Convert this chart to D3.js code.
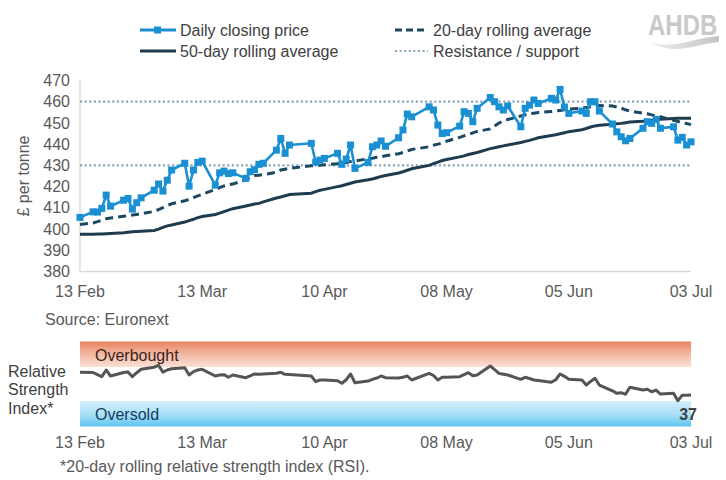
<!DOCTYPE html>
<html><head><meta charset="utf-8">
<script src="https://cdn.jsdelivr.net/npm/d3@7"></script>
<style>body{margin:0;background:#fff}svg{display:block;font-family:"Liberation Sans",Arial,sans-serif}</style>
</head><body><svg id="c" width="726" height="480"></svg>
<script>
const dates = [
"2026-02-13",
"2026-02-16","2026-02-17","2026-02-18","2026-02-19","2026-02-20",
"2026-02-23","2026-02-24","2026-02-25","2026-02-26","2026-02-27",
"2026-03-02","2026-03-03","2026-03-04","2026-03-05","2026-03-06",
"2026-03-09","2026-03-10","2026-03-11","2026-03-12","2026-03-13",
"2026-03-16","2026-03-17","2026-03-18","2026-03-19","2026-03-20",
"2026-03-23","2026-03-24","2026-03-25","2026-03-26","2026-03-27",
"2026-03-30","2026-03-31","2026-04-01","2026-04-02",
"2026-04-07","2026-04-08","2026-04-09","2026-04-10",
"2026-04-13","2026-04-14","2026-04-15","2026-04-16","2026-04-17",
"2026-04-20","2026-04-21","2026-04-22","2026-04-23","2026-04-24",
"2026-04-27","2026-04-28","2026-04-29","2026-04-30",
"2026-05-04","2026-05-05","2026-05-06","2026-05-07","2026-05-08",
"2026-05-11","2026-05-12","2026-05-13","2026-05-14","2026-05-15",
"2026-05-18","2026-05-19","2026-05-20","2026-05-21","2026-05-22",
"2026-05-25","2026-05-26","2026-05-27","2026-05-28","2026-05-29",
"2026-06-01","2026-06-02","2026-06-03","2026-06-04","2026-06-05",
"2026-06-08","2026-06-09","2026-06-10","2026-06-11","2026-06-12",
"2026-06-15","2026-06-16","2026-06-17","2026-06-18","2026-06-19",
"2026-06-22","2026-06-23","2026-06-24","2026-06-25","2026-06-26",
"2026-06-29","2026-06-30","2026-07-01","2026-07-02","2026-07-03"];

const price = [
405.5,
408.1,408.0,409.7,416.0,410.8,
413.6,414.4,409.4,412.4,414.7,
418.3,421.2,417.9,423.0,427.8,
431.0,420.2,427.8,431.4,432.0,
420.7,426.5,427.3,426.2,426.5,
423.9,427.0,428.0,430.5,431.0,
437.2,442.7,435.7,439.6,
440.4,431.5,432.5,433.3,
435.7,430.5,433.0,439.6,428.6,
431.4,438.8,439.6,441.5,439.0,
443.0,446.7,454.2,452.9,
457.6,456.1,449.0,445.0,445.4,
448.5,455.3,454.5,450.6,456.9,
462.0,460.0,457.6,456.1,458.0,
448.2,456.9,458.4,460.8,459.2,
461.6,460.8,465.8,457.5,454.5,
455.6,454.5,460.0,460.0,455.6,
449.5,445.8,443.5,441.6,442.7,
447.5,450.6,449.8,451.7,447.5,
448.2,441.9,443.2,439.6,441.1];

const ma20 = [
402.2,
402.9,403.5,404.2,404.9,405.2,
406.0,406.3,406.6,406.9,407.2,
408.3,409.2,410.1,411.0,411.9,
413.3,414.0,414.8,415.6,416.4,
418.7,419.5,420.3,420.9,421.2,
423.2,424.5,425.2,425.4,425.6,
426.8,427.8,428.2,428.6,
429.8,430.0,430.1,430.3,
430.8,431.0,431.4,431.8,432.1,
433.1,433.4,433.8,434.1,434.5,
435.5,436.1,436.8,437.5,
438.8,439.5,440.0,440.6,441.4,
443.2,443.9,444.6,445.3,446.0,
447.2,448.6,450.0,450.9,451.6,
453.3,453.8,454.3,454.6,454.9,
455.4,455.6,455.9,456.2,456.5,
457.0,457.3,457.6,457.9,458.2,
458.0,457.5,457.0,456.2,455.6,
454.6,454.3,453.8,453.4,452.9,
451.2,450.7,450.2,449.7,449.2];

const ma50 = [
397.6,
397.6,397.7,397.7,397.8,397.9,
398.3,398.5,398.7,398.9,399.0,
399.3,400.0,400.8,401.5,401.9,
403.3,404.0,404.6,405.4,405.9,
406.9,407.5,408.2,408.9,409.6,
410.9,411.3,411.8,412.1,412.8,
414.6,415.1,415.7,416.3,
416.9,417.6,418.3,418.7,
420.0,420.4,421.0,421.6,422.2,
423.2,423.6,424.2,424.8,425.2,
426.4,427.0,427.7,428.4,
430.0,430.8,431.5,432.3,432.8,
434.0,434.5,435.1,435.6,436.1,
437.9,438.3,438.8,439.2,439.6,
440.8,441.3,441.8,442.4,443.0,
444.1,444.4,444.9,445.4,445.9,
446.8,447.4,448.1,448.6,448.9,
449.4,449.6,449.8,450.1,450.4,
450.8,450.9,451.2,451.5,451.7,
452.1,452.2,452.2,452.2,452.2];

const rsi = [
63.8,
63.5,61.0,58.6,66.5,59.4,
63.5,64.1,58.6,63.3,67.3,
69.8,72.0,64.0,66.5,68.0,
69.2,60.6,64.5,66.5,67.3,
59.4,60.6,61.0,57.9,60.6,
57.4,59.5,61.8,61.4,61.8,
62.6,63.8,61.4,61.2,
59.4,52.7,54.7,54.7,
53.9,50.8,55.0,61.8,51.5,
53.5,55.5,57.0,59.4,57.4,
57.0,58.0,59.4,54.7,
62.6,60.0,54.7,57.9,58.0,
58.6,61.0,63.3,59.8,60.6,
71.2,67.0,62.5,61.5,60.6,
55.5,57.9,56.5,54.7,54.0,
52.0,55.0,61.8,59.0,55.5,
54.7,48.8,53.0,56.7,48.8,
42.0,39.0,39.8,37.9,46.1,
42.9,43.8,40.9,42.9,38.2,
39.0,30.4,36.8,36.8,37.0];

const resistanceLevels = [460, 430];
const yTicks = [380,390,400,410,420,430,440,450,460,470];
const xTicks = ["2026-02-13","2026-03-13","2026-04-10","2026-05-08","2026-06-05","2026-07-03"];
const rsiBands = [
  {label:"Overbought", lo:70, hi:100},
  {label:"Oversold", lo:0, hi:30}
];
const legendItems = ["Daily closing price","20-day rolling average","50-day rolling average","Resistance / support"];

const parse = d3.utcParse("%Y-%m-%d");
const fmt = d3.utcFormat("%d %b");
const D = dates.map(parse);

const svg = d3.select("#c");
const textCol = "#595959";
const blue = "#1a90d3", dashCol = "#1c4862", solidCol = "#1f3c4e", dotCol = "#8aa6b6";

const x = d3.scaleUtc().domain([parse(xTicks[0]), parse(xTicks[xTicks.length-1])]).range([80, 691]);
const y = d3.scaleLinear().domain([380, 470]).range([271.5, 80.5]);
const yr = d3.scaleLinear().domain([0, 100]).range([426.5, 341.5]);

// defs
const defs = svg.append("defs");
const g1 = defs.append("linearGradient").attr("id","ob").attr("x1",0).attr("x2",0).attr("y1",0).attr("y2",1);
g1.append("stop").attr("offset","0%").attr("stop-color","#e9825e");
g1.append("stop").attr("offset","45%").attr("stop-color","#f2b49d");
g1.append("stop").attr("offset","100%").attr("stop-color","#fae0d6");
const g2 = defs.append("linearGradient").attr("id","os").attr("x1",0).attr("x2",0).attr("y1",0).attr("y2",1);
g2.append("stop").attr("offset","0%").attr("stop-color","#d3f0fc");
g2.append("stop").attr("offset","55%").attr("stop-color","#a6dff8");
g2.append("stop").attr("offset","100%").attr("stop-color","#5bc4f1");
const g3 = defs.append("linearGradient").attr("id","sw").attr("x1",0).attr("x2",1).attr("y1",0).attr("y2",0);
g3.append("stop").attr("offset","0%").attr("stop-color","#f0f0f0");
g3.append("stop").attr("offset","100%").attr("stop-color","#c4c4c4");

// Legend
const lg = svg.append("g").attr("font-size",16).attr("fill","#404040");
function legendText(tx, ty, t){ lg.append("text").attr("x",tx).attr("y",ty).attr("dy","0.35em").text(t); }
lg.append("line").attr("x1",140).attr("x2",176).attr("y1",30).attr("y2",30).attr("stroke",blue).attr("stroke-width",3);
lg.append("rect").attr("x",154).attr("y",26.5).attr("width",7).attr("height",7).attr("fill",blue);
legendText(180,30,legendItems[0]);
lg.append("line").attr("x1",395).attr("x2",428).attr("y1",30).attr("y2",30).attr("stroke",dashCol).attr("stroke-width",3).attr("stroke-dasharray","7,4");
legendText(433,30,legendItems[1]);
lg.append("line").attr("x1",140).attr("x2",176).attr("y1",51).attr("y2",51).attr("stroke",solidCol).attr("stroke-width",3);
legendText(180,51,legendItems[2]);
lg.append("line").attr("x1",395).attr("x2",428).attr("y1",51).attr("y2",51).attr("stroke",dotCol).attr("stroke-width",2).attr("stroke-dasharray","2,2.6");
legendText(433,51,legendItems[3]);

// Logo
const logo = svg.append("g");
logo.append("text").attr("transform","translate(648,35) scale(1,1.2)").attr("font-size",24).attr("font-weight","bold")
  .attr("fill","#c9c9c9").text("AHDB");
logo.append("path").attr("d","M648,40 C668,52 690,38 719,36 L719,42 C694,44 672,58 648,40 Z").attr("fill","url(#sw)");

// Axes lines
svg.append("line").attr("x1",80).attr("x2",80).attr("y1",y(470)).attr("y2",y(380)).attr("stroke","#d9d9d9").attr("stroke-width",1.3);
svg.append("line").attr("x1",80).attr("x2",691).attr("y1",y(380)).attr("y2",y(380)).attr("stroke","#d9d9d9").attr("stroke-width",1.3);

// y labels
svg.append("g").selectAll("text").data(yTicks).join("text")
  .attr("x",70).attr("y",d=>y(d)).attr("dy","0.35em").attr("text-anchor","end")
  .attr("font-size",16).attr("fill",textCol).text(d=>d);
svg.append("text").attr("transform","translate(23,176) rotate(-90)").attr("text-anchor","middle")
  .attr("dy","0.35em").attr("font-size",16).attr("fill",textCol).text("£ per tonne");

// x labels main
svg.append("g").selectAll("text").data(xTicks).join("text")
  .attr("x",d=>x(parse(d))).attr("y",291).attr("dy","0.35em").attr("text-anchor","middle")
  .attr("font-size",16).attr("fill",textCol).text(d=>fmt(parse(d)));

svg.append("text").attr("x",45).attr("y",319).attr("dy","0.35em").attr("font-size",16).attr("fill",textCol).text("Source: Euronext");

// resistance
svg.append("g").selectAll("line").data(resistanceLevels).join("line")
  .attr("x1",80).attr("x2",691).attr("y1",d=>y(d)).attr("y2",d=>y(d))
  .attr("stroke",dotCol).attr("stroke-width",2.2).attr("stroke-dasharray","2.2,2.4");

const line = d3.line().x((d,i)=>x(D[i])).y(d=>y(d));
svg.append("path").datum(ma50).attr("d",line).attr("fill","none").attr("stroke",solidCol).attr("stroke-width",3);
svg.append("path").datum(ma20).attr("d",line).attr("fill","none").attr("stroke",dashCol).attr("stroke-width",3).attr("stroke-dasharray","8,5");
svg.append("path").datum(price).attr("d",line).attr("fill","none").attr("stroke",blue).attr("stroke-width",2.6);
svg.append("g").selectAll("rect").data(price).join("rect")
  .attr("x",(d,i)=>x(D[i])-3.5).attr("y",d=>y(d)-3.5).attr("width",7).attr("height",7).attr("fill",blue);

// RSI panel
svg.append("g").selectAll("rect").data(rsiBands).join("rect")
  .attr("x",80).attr("width",611).attr("y",d=>yr(d.hi)).attr("height",d=>yr(d.lo)-yr(d.hi))
  .attr("fill",(d,i)=>i===0?"url(#ob)":"url(#os)");
svg.append("text").attr("x",95).attr("y",355).attr("dy","0.35em").attr("font-size",16).attr("fill","#3b1f18").text(rsiBands[0].label);
svg.append("text").attr("x",95).attr("y",414).attr("dy","0.35em").attr("font-size",16).attr("fill","#163a58").text(rsiBands[1].label);

const rline = d3.line().x((d,i)=>x(D[i])).y(d=>yr(d));
svg.append("path").datum(rsi).attr("d",rline).attr("fill","none").attr("stroke","#555555").attr("stroke-width",3).attr("stroke-linejoin","round");
svg.append("text").attr("x",697).attr("y",414).attr("dy","0.35em").attr("text-anchor","end")
  .attr("font-size",16).attr("font-weight","bold").attr("fill","#404040").text(Math.round(rsi[rsi.length-1]));

const rl = svg.append("g").attr("font-size",16).attr("fill","#404040");
["Relative","Strength","Index*"].forEach((t,i)=>rl.append("text").attr("x",8).attr("y",371+i*18.5).attr("dy","0.35em").text(t));

svg.append("g").selectAll("text").data(xTicks).join("text")
  .attr("x",d=>x(parse(d))).attr("y",442).attr("dy","0.35em").attr("text-anchor","middle")
  .attr("font-size",16).attr("fill",textCol).text(d=>fmt(parse(d)));
svg.append("text").attr("x",60).attr("y",466).attr("dy","0.35em").attr("font-size",16).attr("fill",textCol).text("*20-day rolling relative strength index (RSI).");
</script></body></html>
